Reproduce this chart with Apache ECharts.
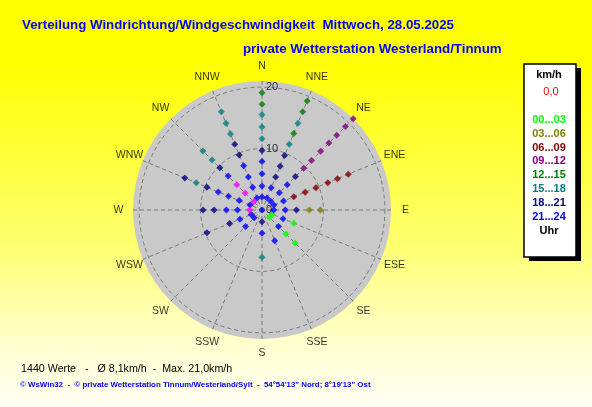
<!DOCTYPE html>
<html>
<head>
<meta charset="utf-8">
<script src="https://cdn.jsdelivr.net/npm/echarts@6/dist/echarts.min.js"></script>
<style>
html,body{margin:0;padding:0;}
#chart{width:592px;height:407px;}
</style>
</head>
<body>
<div id="chart"></div>
<script>
// ---- data ----
const directions = ['N','NNE','NE','ENE','E','ESE','SE','SSE','S','SSW','SW','WSW','W','WNW','NW','NNW'];
const radiusTicks = [0, 10, 20];
const radiusMax = 21;
const hourRanges = ['00...03','03...06','06...09','09...12','12...15','15...18','18...21','21...24'];
const hourColors = ['#00ff00','#808000','#800000','#800080','#008000','#008080','#000080','#0000ff'];

const h00_03 = [['ESE',1.8],['ESE',5.6],['SE',1.7],['SE',5.5],['SE',7.6]];
const h03_06 = [['E',7.7],['E',9.5]];
const h06_09 = [['ENE',5.6],['ENE',7.6],['ENE',9.5],['ENE',11.6],['ENE',13.3],['ENE',15.2]];
const h09_12 = [['NNE',21.1],['NE',9.6],['NE',11.4],['NE',13.5],['NE',15.4],['NE',17.2],['NE',19.2],['NE',21.0]];
const h12_15 = [['N',17.2],['N',19.1],['N',21.1],['NNE',13.5],['NNE',17.3],['NNE',19.2]];
const h15_18 = [['N',11.6],['N',13.5],['N',15.5],['NNE',11.6],['NNE',15.3],['S',7.7],['WNW',11.6],['NW',11.5],['NW',13.6],['NNW',13.4],['NNW',15.3],['NNW',17.3]];
const h18_21 = [['N',9.7],['NNE',5.8],['NNE',7.7],['NNE',9.6],['NE',7.7],['E',5.6],['S',1.9],['WSW',5.7],['WSW',9.7],['W',7.8],['W',9.6],['WNW',9.7],['WNW',13.6],['NW',9.7],['NNW',9.7],['NNW',11.6]];
const h21_24 = [['N',0],['N',2.1],['N',3.9],['N',5.9],['N',7.9],['NNE',2.1],['NNE',3.9],['NE',2.0],['NE',4.0],['NE',5.8],['ENE',2.1],['ENE',3.8],['E',1.9],['E',3.8],['ESE',3.7],['SE',3.8],['SSE',5.4],['S',3.8],['SW',1.8],['SW',3.8],['WSW',1.9],['WSW',3.9],['W',4.0],['W',5.8],['WNW',2.1],['WNW',4.0],['WNW',5.9],['WNW',7.7],['NW',7.8],['NNW',2.1],['NNW',4.0],['NNW',5.8],['NNW',7.8]];
const hExtra = [['W',2.0],['NW',1.9],['NW',3.9],['NW',5.8]];
const extraColor = '#ff00ff';

const titleLine1 = 'Verteilung Windrichtung/Windgeschwindigkeit  Mittwoch, 28.05.2025';
const titleLine2 = 'private Wetterstation Westerland/Tinnum';
const statsText = '1440 Werte   -   Ø 8,1km/h  -  Max. 21,0km/h';
const footerText = '© WsWin32  -  © private Wetterstation Tinnum/Westerland/Sylt  -  54°54\'13" Nord; 8°19\'13" Ost';
const calmText = '0,0';

// ---- build ----
const FONT = 'Liberation Sans, Arial, sans-serif';
const step = 360 / directions.length;
const angleOf = d => directions.indexOf(d) * step;
const groups = [h00_03, h03_06, h06_09, h09_12, h12_15, h15_18, h18_21, h21_24];

const pointSeries = groups.map((g, i) => ({
  type: 'scatter', coordinateSystem: 'polar', polarIndex: 1, z: 5, silent: true,
  symbol: 'diamond', symbolSize: 7,
  itemStyle: { color: hourColors[i] },
  data: g.map(p => [p[1], angleOf(p[0])])
}));
pointSeries.push({
  type: 'scatter', coordinateSystem: 'polar', polarIndex: 1, z: 5, silent: true,
  symbol: 'diamond', symbolSize: 7,
  itemStyle: { color: extraColor },
  data: hExtra.map(p => [p[1], angleOf(p[0])])
});

const labelR = radiusMax * 1.112;
const dirLabelSeries = {
  type: 'scatter', coordinateSystem: 'polar', polarIndex: 1, clip: false, silent: true, z: 6,
  symbolSize: 0,
  data: directions.map((d, i) => ({ value: [labelR, i * step], name: d })),
  label: { show: true, position: 'inside', formatter: p => p.name,
           color: '#000', fontFamily: FONT, fontSize: 10.5 }
};
const tickLabelSeries = {
  type: 'scatter', coordinateSystem: 'polar', polarIndex: 1, clip: false, silent: true, z: 6,
  symbolSize: 0,
  data: radiusTicks.map(t => [t, 0]),
  label: { show: true, position: 'right', distance: 4, formatter: p => String(p.value[0]),
           color: '#000', fontFamily: FONT, fontSize: 11 }
};

// legend box graphics
const legendX = 524, legendY = 64, legendW = 52, legendH = 193;
const legendCx = legendX + legendW / 2 - 1;
const legendGraphics = [
  { type: 'rect', shape: { x: legendX + 5, y: legendY + 4, width: legendW, height: legendH }, style: { fill: '#000' }, z: 10 },
  { type: 'rect', shape: { x: legendX, y: legendY, width: legendW, height: legendH }, style: { fill: '#fff', stroke: '#000', lineWidth: 1.5 }, z: 11 },
  { type: 'text', x: legendCx, y: 75, style: { text: 'km/h', fill: '#000', font: 'bold 11px ' + FONT, textAlign: 'center', textVerticalAlign: 'middle' }, z: 12 },
  { type: 'text', x: legendCx + 2, y: 92, style: { text: calmText, fill: '#ff0000', font: '11px ' + FONT, textAlign: 'center', textVerticalAlign: 'middle' }, z: 12 }
];
hourRanges.forEach((h, i) => {
  legendGraphics.push({ type: 'text', x: legendCx, y: 120 + i * 13.8,
    style: { text: h, fill: hourColors[i], font: 'bold 11px ' + FONT, textAlign: 'center', textVerticalAlign: 'middle' }, z: 12 });
});
legendGraphics.push({ type: 'text', x: legendCx, y: 231, style: { text: 'Uhr', fill: '#000', font: 'bold 11px ' + FONT, textAlign: 'center', textVerticalAlign: 'middle' }, z: 12 });

const textGraphics = [
  { type: 'text', x: 22, y: 25, style: { text: titleLine1, fill: '#0000ff', font: 'bold 13.3px ' + FONT, textVerticalAlign: 'middle' } },
  { type: 'text', x: 243, y: 49, style: { text: titleLine2, fill: '#0000ff', font: 'bold 13.3px ' + FONT, textVerticalAlign: 'middle' } },
  { type: 'text', x: 21, y: 369, style: { text: statsText, fill: '#000', font: '10.7px ' + FONT, textVerticalAlign: 'middle' } },
  { type: 'text', x: 20, y: 385, style: { text: footerText, fill: '#0000ff', font: 'bold 7.9px ' + FONT, textVerticalAlign: 'middle' } }
];

const hidden = { axisLine: { show: false }, axisTick: { show: false }, axisLabel: { show: false } };
const dash = { color: '#787878', width: 1, type: [4, 3] };

const chart = echarts.init(document.getElementById('chart'), null, { renderer: 'canvas' });
chart.setOption({
  animation: false,
  backgroundColor: {
    type: 'linear', x: 0, y: 0, x2: 0, y2: 1,
    colorStops: [
      { offset: 0, color: '#ffff00' },
      { offset: 0.15, color: '#ffff00' },
      { offset: 0.6, color: '#ffff70' },
      { offset: 0.85, color: '#ffffd0' },
      { offset: 1, color: '#fffff4' }
    ]
  },
  polar: [
    { center: [262, 210], radius: 129 },
    { center: [262, 210], radius: 129 }
  ],
  angleAxis: [
    Object.assign({ polarIndex: 0, type: 'value', min: 0, max: 360, interval: step, startAngle: 90, clockwise: true, z: 0,
      splitLine: { show: false } }, hidden),
    Object.assign({ polarIndex: 1, type: 'value', min: 0, max: 360, interval: step, startAngle: 90, clockwise: true, z: 2,
      splitLine: { show: true, lineStyle: dash } }, hidden)
  ],
  radiusAxis: [
    Object.assign({ polarIndex: 0, type: 'value', min: 0, max: radiusMax, interval: 10, z: 0,
      splitLine: { show: false },
      splitArea: { show: true, areaStyle: { color: ['#c9c9c9'] } } }, hidden),
    Object.assign({ polarIndex: 1, type: 'value', min: 0, max: radiusMax, interval: 10, z: 2,
      splitLine: { show: true, lineStyle: Object.assign({}, dash, { color: ['#787878', '#787878', '#787878', 'rgba(0,0,0,0)'] }) },
      splitArea: { show: false } }, hidden)
  ],
  graphic: textGraphics.concat(legendGraphics),
  series: pointSeries.concat([dirLabelSeries, tickLabelSeries])
});
</script>
</body>
</html>
